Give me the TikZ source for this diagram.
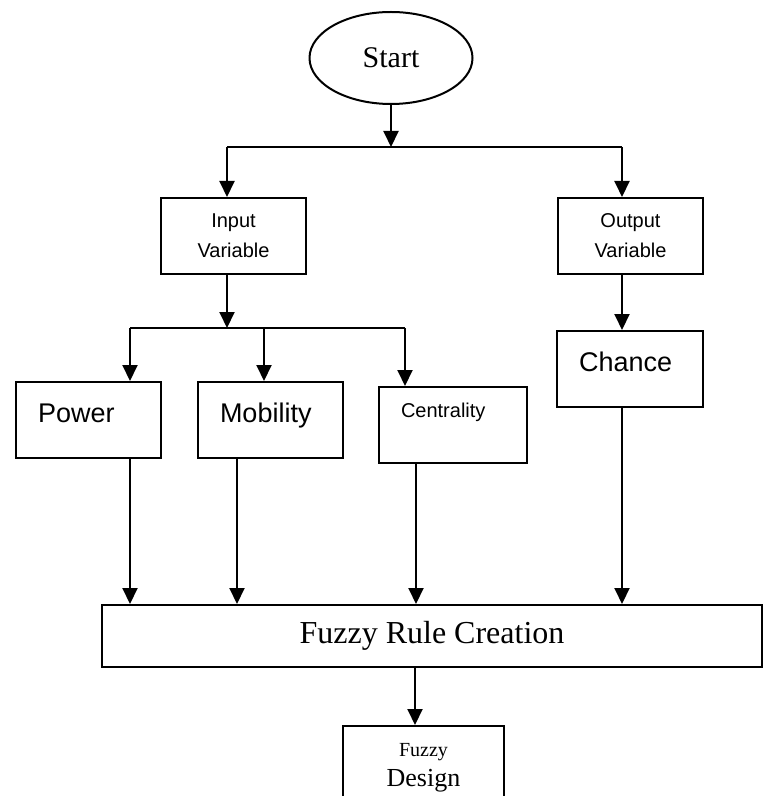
\documentclass[tikz,border=0pt]{standalone}
\usepackage{fontspec}
\setmainfont{Liberation Serif}
\setsansfont{Liberation Sans}
\usetikzlibrary{arrows.meta,shapes.geometric}
\begin{document}
\begin{tikzpicture}
	[x=0.5pt, y=-0.5pt, line width=1pt,
	every node/.style={inner sep=0pt},
	box/.style={draw, rectangle, minimum width=72.5pt, minimum height=38pt},
	smalltxt/.style={font=\sffamily\fontsize{10}{15}\selectfont, align=center},
	bigtxt/.style={font=\sffamily\fontsize{13.5}{16}\selectfont, anchor=base west},
	arr/.style={-{Triangle[width=7.5pt,length=8pt]}}]
	\path[use as bounding box, clip] (0,0) rectangle (770,796);
	\node[draw, ellipse, minimum width=81.5pt, minimum height=46pt, font=\fontsize{15}{18}\selectfont] (start) at (391,58) {Start};
	\node[box, smalltxt] (input) at (233.5,236) {Input\\Variable};
	\node[box, smalltxt] (output) at (630.5,236) {Output\\Variable};
	\node[box] (power) at (88.5,420) {};
	\node[box] (mobility) at (270.5,420) {};
	\node[box, minimum width=74pt] (centrality) at (453,425) {};
	\node[box, minimum width=73pt] (chance) at (630,369) {};
	\node[bigtxt] (powertxt) at (37,422) {Power};
	\node[bigtxt] (mobilitytxt) at (219,422) {Mobility};
	\node[smalltxt, anchor=base west] (centralitytxt) at (400,417) {Centrality};
	\node[bigtxt] (chancetxt) at (578,371) {Chance};
	\node[draw, minimum width=330pt, minimum height=31pt, font=\fontsize{16}{19}\selectfont] (rule) at (432,636) {Fuzzy Rule Creation};
	\node[draw, minimum width=80.5pt, minimum height=42pt, align=center] (design) at (423.5,768) {{\fontsize{10}{12}\selectfont Fuzzy}\\[3pt]{\fontsize{13}{15}\selectfont Design}};
	\coordinate (top) at (391,147);
	\coordinate (topl) at (227,147);
	\coordinate (topr) at (622,147);
	\coordinate (mid) at (227,328);
	\coordinate (midl) at (130,328);
	\coordinate (midm) at (264,328);
	\coordinate (midr) at (405,328);
	\draw[arr] (start.south) -- (top);
	\draw (topl) -- (topr);
	\draw[arr] (topl) -- (topl |- input.north);
	\draw[arr] (topr) -- (topr |- output.north);
	\draw[arr] (mid |- input.south) -- (mid);
	\draw (midl) -- (midr);
	\draw[arr] (midl) -- (midl |- power.north);
	\draw[arr] (midm) -- (midm |- mobility.north);
	\draw[arr] (midr) -- (midr |- centrality.north);
	\draw[arr] (topr |- output.south) -- (topr |- chance.north);
	\foreach \x/\n in {130/power, 237/mobility, 416/centrality, 622/chance}
		\draw[arr] (\x,0 |- \n.south) -- (\x,0 |- rule.north);
	\draw[arr] (415,0 |- rule.south) -- (415,0 |- design.north);
\end{tikzpicture}
\end{document}
